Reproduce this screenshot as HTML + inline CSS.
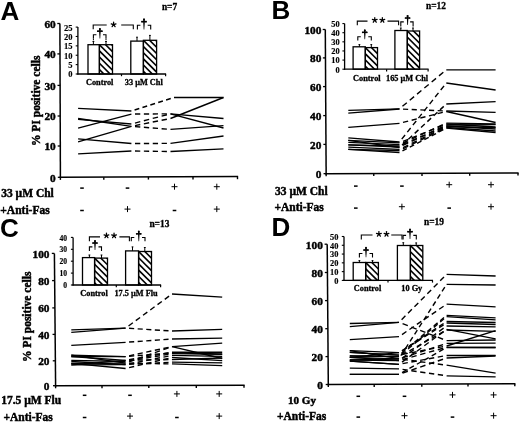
<!DOCTYPE html>
<html><head><meta charset="utf-8"><style>
html,body{margin:0;padding:0;background:#fff;}
svg{display:block;will-change:transform;}
</style></head><body>
<svg width="520" height="422" viewBox="0 0 520 422">
<rect width="520" height="422" fill="#fff"/>
<text x="0.50" y="20.00" font-family="'Liberation Sans', sans-serif" font-weight="bold" font-size="26" text-anchor="start">A</text>
<text x="161.90" y="9.60" font-family="'Liberation Serif', serif" font-weight="bold" font-size="9.4" text-anchor="start" stroke="#000" stroke-width="0.3">n=7</text>
<line x1="59.90" y1="23.50" x2="60.40" y2="178.10" stroke="#000" stroke-width="1.5"/>
<line x1="57.30" y1="23.50" x2="59.90" y2="23.50" stroke="#000" stroke-width="1.3"/>
<text x="55.70" y="27.95" font-family="'Liberation Serif', serif" font-weight="bold" font-size="11.3" text-anchor="end" stroke="#000" stroke-width="0.45">60</text>
<line x1="57.40" y1="53.90" x2="60.00" y2="53.90" stroke="#000" stroke-width="1.3"/>
<text x="55.70" y="58.35" font-family="'Liberation Serif', serif" font-weight="bold" font-size="11.3" text-anchor="end" stroke="#000" stroke-width="0.45">40</text>
<line x1="57.50" y1="85.40" x2="60.10" y2="85.40" stroke="#000" stroke-width="1.3"/>
<text x="55.70" y="89.85" font-family="'Liberation Serif', serif" font-weight="bold" font-size="11.3" text-anchor="end" stroke="#000" stroke-width="0.45">30</text>
<line x1="57.60" y1="116.00" x2="60.20" y2="116.00" stroke="#000" stroke-width="1.3"/>
<text x="55.70" y="120.45" font-family="'Liberation Serif', serif" font-weight="bold" font-size="11.3" text-anchor="end" stroke="#000" stroke-width="0.45">20</text>
<line x1="57.70" y1="146.00" x2="60.30" y2="146.00" stroke="#000" stroke-width="1.3"/>
<text x="55.70" y="150.45" font-family="'Liberation Serif', serif" font-weight="bold" font-size="11.3" text-anchor="end" stroke="#000" stroke-width="0.45">10</text>
<line x1="57.80" y1="177.30" x2="60.40" y2="177.30" stroke="#000" stroke-width="1.3"/>
<text x="55.70" y="181.75" font-family="'Liberation Serif', serif" font-weight="bold" font-size="11.3" text-anchor="end" stroke="#000" stroke-width="0.45">0</text>
<line x1="59.70" y1="177.30" x2="238.10" y2="176.60" stroke="#000" stroke-width="1.5"/>
<line x1="60.40" y1="177.30" x2="60.40" y2="179.90" stroke="#000" stroke-width="1.4"/>
<line x1="103.80" y1="177.13" x2="103.80" y2="179.73" stroke="#000" stroke-width="1.4"/>
<line x1="148.40" y1="176.95" x2="148.40" y2="179.55" stroke="#000" stroke-width="1.4"/>
<line x1="193.00" y1="176.78" x2="193.00" y2="179.38" stroke="#000" stroke-width="1.4"/>
<line x1="237.50" y1="176.60" x2="237.50" y2="179.20" stroke="#000" stroke-width="1.4"/>
<text x="0" y="0" font-family="'Liberation Serif', serif" font-weight="bold" font-size="11.5" text-anchor="middle" stroke="#000" stroke-width="0.45" transform="translate(40.00,100.80) rotate(-90)">% PI positive cells</text>
<text x="1.20" y="197.10" font-family="'Liberation Serif', serif" font-weight="bold" font-size="11.5" text-anchor="start" stroke="#000" stroke-width="0.45">33 µM Chl</text>
<text x="0.30" y="214.00" font-family="'Liberation Serif', serif" font-weight="bold" font-size="11.5" text-anchor="start" stroke="#000" stroke-width="0.45">+Anti-Fas</text>
<rect x="80.20" y="187.35" width="3.6" height="1.5" fill="#000"/>
<rect x="80.20" y="209.75" width="3.6" height="1.5" fill="#000"/>
<rect x="125.70" y="187.35" width="3.6" height="1.5" fill="#000"/>
<line x1="124.50" y1="209.10" x2="130.50" y2="209.10" stroke="#000" stroke-width="1.0"/>
<line x1="127.50" y1="206.10" x2="127.50" y2="212.10" stroke="#000" stroke-width="1.0"/>
<line x1="171.50" y1="186.70" x2="177.50" y2="186.70" stroke="#000" stroke-width="1.0"/>
<line x1="174.50" y1="183.70" x2="174.50" y2="189.70" stroke="#000" stroke-width="1.0"/>
<rect x="172.70" y="209.75" width="3.6" height="1.5" fill="#000"/>
<line x1="213.80" y1="186.70" x2="219.80" y2="186.70" stroke="#000" stroke-width="1.0"/>
<line x1="216.80" y1="183.70" x2="216.80" y2="189.70" stroke="#000" stroke-width="1.0"/>
<line x1="213.80" y1="209.10" x2="219.80" y2="209.10" stroke="#000" stroke-width="1.0"/>
<line x1="216.80" y1="206.10" x2="216.80" y2="212.10" stroke="#000" stroke-width="1.0"/>
<polyline points="78.10,108.40 131.40,111.00" fill="none" stroke="#000" stroke-width="1.35" stroke-linejoin="miter"/>
<line x1="131.40" y1="111.00" x2="174.00" y2="97.50" stroke="#000" stroke-width="1.4" stroke-dasharray="4.92,3.34" stroke-dashoffset="4.92"/>
<polyline points="174.00,97.50 223.50,97.50" fill="none" stroke="#000" stroke-width="1.35" stroke-linejoin="miter"/>
<polyline points="78.10,118.50 131.40,126.30" fill="none" stroke="#000" stroke-width="1.35" stroke-linejoin="miter"/>
<line x1="131.40" y1="126.30" x2="170.50" y2="118.50" stroke="#000" stroke-width="1.4" stroke-dasharray="5.39,3.66" stroke-dashoffset="5.39"/>
<polyline points="170.50,118.50 223.50,97.50" fill="none" stroke="#000" stroke-width="1.35" stroke-linejoin="miter"/>
<polyline points="78.10,119.40 131.40,124.00" fill="none" stroke="#000" stroke-width="1.35" stroke-linejoin="miter"/>
<line x1="131.40" y1="124.00" x2="170.50" y2="113.80" stroke="#000" stroke-width="1.4" stroke-dasharray="5.46,3.71" stroke-dashoffset="5.46"/>
<polyline points="170.50,113.80 223.50,128.00" fill="none" stroke="#000" stroke-width="1.35" stroke-linejoin="miter"/>
<polyline points="78.10,128.10 131.40,114.10" fill="none" stroke="#000" stroke-width="1.35" stroke-linejoin="miter"/>
<line x1="131.40" y1="114.10" x2="170.50" y2="113.80" stroke="#000" stroke-width="1.4" stroke-dasharray="5.29,3.59" stroke-dashoffset="5.29"/>
<polyline points="170.50,113.80 223.50,118.50" fill="none" stroke="#000" stroke-width="1.35" stroke-linejoin="miter"/>
<polyline points="78.10,138.80 131.40,143.50" fill="none" stroke="#000" stroke-width="1.35" stroke-linejoin="miter"/>
<line x1="131.40" y1="143.50" x2="170.50" y2="143.40" stroke="#000" stroke-width="1.4" stroke-dasharray="5.29,3.59" stroke-dashoffset="5.29"/>
<polyline points="170.50,143.40 223.50,136.00" fill="none" stroke="#000" stroke-width="1.35" stroke-linejoin="miter"/>
<polyline points="78.10,141.90 131.40,126.30" fill="none" stroke="#000" stroke-width="1.35" stroke-linejoin="miter"/>
<line x1="131.40" y1="126.30" x2="170.50" y2="129.40" stroke="#000" stroke-width="1.4" stroke-dasharray="5.30,3.60" stroke-dashoffset="5.30"/>
<polyline points="170.50,129.40 223.50,125.60" fill="none" stroke="#000" stroke-width="1.35" stroke-linejoin="miter"/>
<polyline points="78.10,153.80 131.40,151.00" fill="none" stroke="#000" stroke-width="1.35" stroke-linejoin="miter"/>
<line x1="131.40" y1="151.00" x2="170.50" y2="151.50" stroke="#000" stroke-width="1.4" stroke-dasharray="5.29,3.59" stroke-dashoffset="5.29"/>
<polyline points="170.50,151.50 223.50,148.80" fill="none" stroke="#000" stroke-width="1.35" stroke-linejoin="miter"/>
<rect x="88.00" y="44.70" width="11.40" height="29.30" fill="#fff" stroke="#000" stroke-width="1.3"/>
<clipPath id="c1"><rect x="99.40" y="44.70" width="13.10" height="29.30"/></clipPath>
<g clip-path="url(#c1)">
<line x1="98.40" y1="18.90" x2="113.50" y2="34.00" stroke="#000" stroke-width="1.6"/>
<line x1="98.40" y1="25.10" x2="113.50" y2="40.20" stroke="#000" stroke-width="1.6"/>
<line x1="98.40" y1="31.30" x2="113.50" y2="46.40" stroke="#000" stroke-width="1.6"/>
<line x1="98.40" y1="37.50" x2="113.50" y2="52.60" stroke="#000" stroke-width="1.6"/>
<line x1="98.40" y1="43.70" x2="113.50" y2="58.80" stroke="#000" stroke-width="1.6"/>
<line x1="98.40" y1="49.90" x2="113.50" y2="65.00" stroke="#000" stroke-width="1.6"/>
<line x1="98.40" y1="56.10" x2="113.50" y2="71.20" stroke="#000" stroke-width="1.6"/>
<line x1="98.40" y1="62.30" x2="113.50" y2="77.40" stroke="#000" stroke-width="1.6"/>
<line x1="98.40" y1="68.50" x2="113.50" y2="83.60" stroke="#000" stroke-width="1.6"/>
<line x1="98.40" y1="74.70" x2="113.50" y2="89.80" stroke="#000" stroke-width="1.6"/>
</g>
<rect x="99.40" y="44.70" width="13.10" height="29.30" fill="none" stroke="#000" stroke-width="1.3"/>
<line x1="93.40" y1="41.50" x2="93.40" y2="44.70" stroke="#000" stroke-width="1.0"/>
<line x1="92.50" y1="41.50" x2="94.30" y2="41.50" stroke="#000" stroke-width="1.0"/>
<line x1="106.00" y1="41.50" x2="106.00" y2="44.70" stroke="#000" stroke-width="1.0"/>
<line x1="105.10" y1="41.50" x2="106.90" y2="41.50" stroke="#000" stroke-width="1.0"/>
<polyline points="93.40,38.50 93.40,34.70 96.40,34.70" fill="none" stroke="#000" stroke-width="1.1" stroke-linejoin="miter"/>
<polyline points="103.00,34.70 106.00,34.70 106.00,38.50" fill="none" stroke="#000" stroke-width="1.1" stroke-linejoin="miter"/>
<line x1="93.40" y1="38.50" x2="93.40" y2="41.50" stroke="#000" stroke-width="1.0" stroke-dasharray="1.8,1.4"/>
<line x1="106.00" y1="38.50" x2="106.00" y2="41.50" stroke="#000" stroke-width="1.0" stroke-dasharray="1.8,1.4"/>
<polygon points="99.05,28.60 100.75,28.60 100.65,32.18 100.20,38.60 99.60,38.60 99.15,32.18" fill="#000"/>
<circle cx="99.90" cy="28.90" r="0.95" fill="#000"/>
<line x1="97.70" y1="31.18" x2="102.10" y2="31.18" stroke="#000" stroke-width="1.5"/>
<circle cx="97.80" cy="31.18" r="0.85" fill="#000"/>
<circle cx="102.00" cy="31.18" r="0.85" fill="#000"/>
<rect x="130.80" y="41.10" width="12.60" height="32.90" fill="#fff" stroke="#000" stroke-width="1.3"/>
<clipPath id="c2"><rect x="143.40" y="40.30" width="13.20" height="33.70"/></clipPath>
<g clip-path="url(#c2)">
<line x1="142.40" y1="14.50" x2="157.60" y2="29.70" stroke="#000" stroke-width="1.6"/>
<line x1="142.40" y1="20.70" x2="157.60" y2="35.90" stroke="#000" stroke-width="1.6"/>
<line x1="142.40" y1="26.90" x2="157.60" y2="42.10" stroke="#000" stroke-width="1.6"/>
<line x1="142.40" y1="33.10" x2="157.60" y2="48.30" stroke="#000" stroke-width="1.6"/>
<line x1="142.40" y1="39.30" x2="157.60" y2="54.50" stroke="#000" stroke-width="1.6"/>
<line x1="142.40" y1="45.50" x2="157.60" y2="60.70" stroke="#000" stroke-width="1.6"/>
<line x1="142.40" y1="51.70" x2="157.60" y2="66.90" stroke="#000" stroke-width="1.6"/>
<line x1="142.40" y1="57.90" x2="157.60" y2="73.10" stroke="#000" stroke-width="1.6"/>
<line x1="142.40" y1="64.10" x2="157.60" y2="79.30" stroke="#000" stroke-width="1.6"/>
<line x1="142.40" y1="70.30" x2="157.60" y2="85.50" stroke="#000" stroke-width="1.6"/>
</g>
<rect x="143.40" y="40.30" width="13.20" height="33.70" fill="none" stroke="#000" stroke-width="1.3"/>
<line x1="137.00" y1="37.20" x2="137.00" y2="41.10" stroke="#000" stroke-width="1.0"/>
<line x1="136.10" y1="37.20" x2="137.90" y2="37.20" stroke="#000" stroke-width="1.0"/>
<line x1="149.90" y1="35.40" x2="149.90" y2="40.30" stroke="#000" stroke-width="1.0"/>
<line x1="149.00" y1="35.40" x2="150.80" y2="35.40" stroke="#000" stroke-width="1.0"/>
<polyline points="137.40,29.40 137.40,25.30 140.40,25.30" fill="none" stroke="#000" stroke-width="1.1" stroke-linejoin="miter"/>
<polyline points="147.70,25.30 150.70,25.30 150.70,29.40" fill="none" stroke="#000" stroke-width="1.1" stroke-linejoin="miter"/>
<polygon points="143.15,18.90 144.85,18.90 144.75,22.63 144.30,29.40 143.70,29.40 143.25,22.63" fill="#000"/>
<circle cx="144.00" cy="19.20" r="0.95" fill="#000"/>
<line x1="141.80" y1="21.63" x2="146.20" y2="21.63" stroke="#000" stroke-width="1.5"/>
<circle cx="141.90" cy="21.63" r="0.85" fill="#000"/>
<circle cx="146.10" cy="21.63" r="0.85" fill="#000"/>
<line x1="77.90" y1="27.10" x2="77.90" y2="74.60" stroke="#000" stroke-width="1.3"/>
<line x1="75.70" y1="74.00" x2="77.90" y2="74.00" stroke="#000" stroke-width="1.1"/>
<text x="72.60" y="77.42" font-family="'Liberation Serif', serif" font-weight="bold" font-size="8.5" text-anchor="end" stroke="#000" stroke-width="0.15">0</text>
<line x1="75.70" y1="64.62" x2="77.90" y2="64.62" stroke="#000" stroke-width="1.1"/>
<text x="72.60" y="68.04" font-family="'Liberation Serif', serif" font-weight="bold" font-size="8.5" text-anchor="end" stroke="#000" stroke-width="0.15">5</text>
<line x1="75.70" y1="55.24" x2="77.90" y2="55.24" stroke="#000" stroke-width="1.1"/>
<text x="72.60" y="58.66" font-family="'Liberation Serif', serif" font-weight="bold" font-size="8.5" text-anchor="end" stroke="#000" stroke-width="0.15">10</text>
<line x1="75.70" y1="45.86" x2="77.90" y2="45.86" stroke="#000" stroke-width="1.1"/>
<text x="72.60" y="49.28" font-family="'Liberation Serif', serif" font-weight="bold" font-size="8.5" text-anchor="end" stroke="#000" stroke-width="0.15">15</text>
<line x1="75.70" y1="36.48" x2="77.90" y2="36.48" stroke="#000" stroke-width="1.1"/>
<text x="72.60" y="39.90" font-family="'Liberation Serif', serif" font-weight="bold" font-size="8.5" text-anchor="end" stroke="#000" stroke-width="0.15">20</text>
<line x1="75.70" y1="27.10" x2="77.90" y2="27.10" stroke="#000" stroke-width="1.1"/>
<text x="72.60" y="30.52" font-family="'Liberation Serif', serif" font-weight="bold" font-size="8.5" text-anchor="end" stroke="#000" stroke-width="0.15">25</text>
<line x1="77.30" y1="74.00" x2="166.10" y2="74.00" stroke="#000" stroke-width="1.3"/>
<line x1="165.60" y1="74.00" x2="165.60" y2="76.20" stroke="#000" stroke-width="1.2"/>
<line x1="121.50" y1="74.00" x2="121.50" y2="76.20" stroke="#000" stroke-width="1.2"/>
<text x="85.90" y="84.60" font-family="'Liberation Serif', serif" font-weight="bold" font-size="8.3" text-anchor="start" stroke="#000" stroke-width="0.3">Control</text>
<text x="124.80" y="84.80" font-family="'Liberation Serif', serif" font-weight="bold" font-size="8.3" text-anchor="start" stroke="#000" stroke-width="0.3">33 µM Chl</text>
<polyline points="93.20,29.20 93.20,25.00 106.70,25.00" fill="none" stroke="#000" stroke-width="1.1" stroke-linejoin="miter"/>
<polyline points="121.20,25.00 133.30,25.00 133.30,29.20" fill="none" stroke="#000" stroke-width="1.1" stroke-linejoin="miter"/>
<line x1="113.60" y1="24.60" x2="113.60" y2="22.10" stroke="#000" stroke-width="1.25" stroke-linecap="round"/>
<line x1="113.60" y1="24.60" x2="115.98" y2="23.83" stroke="#000" stroke-width="1.25" stroke-linecap="round"/>
<line x1="113.60" y1="24.60" x2="115.07" y2="26.62" stroke="#000" stroke-width="1.25" stroke-linecap="round"/>
<line x1="113.60" y1="24.60" x2="112.13" y2="26.62" stroke="#000" stroke-width="1.25" stroke-linecap="round"/>
<line x1="113.60" y1="24.60" x2="111.22" y2="23.83" stroke="#000" stroke-width="1.25" stroke-linecap="round"/>
<circle cx="113.60" cy="24.60" r="0.9" fill="#000"/>
<text x="271.50" y="19.40" font-family="'Liberation Sans', sans-serif" font-weight="bold" font-size="26" text-anchor="start">B</text>
<text x="426.00" y="8.80" font-family="'Liberation Serif', serif" font-weight="bold" font-size="9.4" text-anchor="start" stroke="#000" stroke-width="0.3">n=12</text>
<line x1="325.30" y1="29.50" x2="326.15" y2="174.45" stroke="#000" stroke-width="1.5"/>
<line x1="322.70" y1="29.50" x2="325.30" y2="29.50" stroke="#000" stroke-width="1.3"/>
<text x="321.40" y="33.95" font-family="'Liberation Serif', serif" font-weight="bold" font-size="11.3" text-anchor="end" stroke="#000" stroke-width="0.45">100</text>
<line x1="322.87" y1="57.90" x2="325.47" y2="57.90" stroke="#000" stroke-width="1.3"/>
<text x="321.40" y="62.35" font-family="'Liberation Serif', serif" font-weight="bold" font-size="11.3" text-anchor="end" stroke="#000" stroke-width="0.45">80</text>
<line x1="323.04" y1="86.60" x2="325.64" y2="86.60" stroke="#000" stroke-width="1.3"/>
<text x="321.40" y="91.05" font-family="'Liberation Serif', serif" font-weight="bold" font-size="11.3" text-anchor="end" stroke="#000" stroke-width="0.45">60</text>
<line x1="323.21" y1="115.60" x2="325.81" y2="115.60" stroke="#000" stroke-width="1.3"/>
<text x="321.40" y="120.05" font-family="'Liberation Serif', serif" font-weight="bold" font-size="11.3" text-anchor="end" stroke="#000" stroke-width="0.45">40</text>
<line x1="323.38" y1="144.40" x2="325.98" y2="144.40" stroke="#000" stroke-width="1.3"/>
<text x="321.40" y="148.85" font-family="'Liberation Serif', serif" font-weight="bold" font-size="11.3" text-anchor="end" stroke="#000" stroke-width="0.45">20</text>
<line x1="323.55" y1="173.65" x2="326.15" y2="173.65" stroke="#000" stroke-width="1.3"/>
<text x="321.40" y="178.10" font-family="'Liberation Serif', serif" font-weight="bold" font-size="11.3" text-anchor="end" stroke="#000" stroke-width="0.45">0</text>
<line x1="325.45" y1="173.65" x2="518.60" y2="172.90" stroke="#000" stroke-width="1.5"/>
<line x1="326.15" y1="173.65" x2="326.15" y2="176.25" stroke="#000" stroke-width="1.4"/>
<line x1="373.75" y1="173.46" x2="373.75" y2="176.06" stroke="#000" stroke-width="1.4"/>
<line x1="422.00" y1="173.28" x2="422.00" y2="175.88" stroke="#000" stroke-width="1.4"/>
<line x1="469.70" y1="173.09" x2="469.70" y2="175.69" stroke="#000" stroke-width="1.4"/>
<line x1="518.00" y1="172.90" x2="518.00" y2="175.50" stroke="#000" stroke-width="1.4"/>
<text x="0" y="0" font-family="'Liberation Serif', serif" font-weight="bold" font-size="11.5" text-anchor="middle" stroke="#000" stroke-width="0.45" transform="translate(-100.00,-100.00) rotate(-90)">% PI positive cells</text>
<text x="275.00" y="194.80" font-family="'Liberation Serif', serif" font-weight="bold" font-size="11.5" text-anchor="start" stroke="#000" stroke-width="0.45">33 µM Chl</text>
<text x="274.40" y="210.60" font-family="'Liberation Serif', serif" font-weight="bold" font-size="11.5" text-anchor="start" stroke="#000" stroke-width="0.45">+Anti-Fas</text>
<rect x="354.00" y="185.35" width="3.6" height="1.5" fill="#000"/>
<rect x="354.00" y="207.35" width="3.6" height="1.5" fill="#000"/>
<rect x="400.10" y="185.35" width="3.6" height="1.5" fill="#000"/>
<line x1="398.90" y1="206.70" x2="404.90" y2="206.70" stroke="#000" stroke-width="1.0"/>
<line x1="401.90" y1="203.70" x2="401.90" y2="209.70" stroke="#000" stroke-width="1.0"/>
<line x1="446.20" y1="184.70" x2="452.20" y2="184.70" stroke="#000" stroke-width="1.0"/>
<line x1="449.20" y1="181.70" x2="449.20" y2="187.70" stroke="#000" stroke-width="1.0"/>
<rect x="447.40" y="207.35" width="3.6" height="1.5" fill="#000"/>
<line x1="488.00" y1="184.70" x2="494.00" y2="184.70" stroke="#000" stroke-width="1.0"/>
<line x1="491.00" y1="181.70" x2="491.00" y2="187.70" stroke="#000" stroke-width="1.0"/>
<line x1="488.00" y1="206.70" x2="494.00" y2="206.70" stroke="#000" stroke-width="1.0"/>
<line x1="491.00" y1="203.70" x2="491.00" y2="209.70" stroke="#000" stroke-width="1.0"/>
<polyline points="348.30,110.30 399.50,108.80" fill="none" stroke="#000" stroke-width="1.35" stroke-linejoin="miter"/>
<line x1="399.50" y1="108.80" x2="446.30" y2="69.80" stroke="#000" stroke-width="1.4" stroke-dasharray="5.66,3.85" stroke-dashoffset="5.66"/>
<polyline points="446.30,69.80 495.60,69.80" fill="none" stroke="#000" stroke-width="1.35" stroke-linejoin="miter"/>
<polyline points="348.30,113.10 399.50,109.00" fill="none" stroke="#000" stroke-width="1.35" stroke-linejoin="miter"/>
<line x1="399.50" y1="109.00" x2="446.30" y2="111.00" stroke="#000" stroke-width="1.4" stroke-dasharray="5.16,3.51" stroke-dashoffset="5.16"/>
<polyline points="446.30,111.00 495.60,112.30" fill="none" stroke="#000" stroke-width="1.35" stroke-linejoin="miter"/>
<polyline points="348.30,127.30 399.50,123.30" fill="none" stroke="#000" stroke-width="1.35" stroke-linejoin="miter"/>
<line x1="399.50" y1="123.30" x2="446.30" y2="111.50" stroke="#000" stroke-width="1.4" stroke-dasharray="5.32,3.61" stroke-dashoffset="5.32"/>
<polyline points="446.30,111.50 495.60,122.50" fill="none" stroke="#000" stroke-width="1.35" stroke-linejoin="miter"/>
<polyline points="348.30,137.90 399.50,142.00" fill="none" stroke="#000" stroke-width="1.35" stroke-linejoin="miter"/>
<line x1="399.50" y1="142.00" x2="446.30" y2="83.00" stroke="#000" stroke-width="1.4" stroke-dasharray="5.34,3.62" stroke-dashoffset="5.34"/>
<polyline points="446.30,83.00 495.60,90.00" fill="none" stroke="#000" stroke-width="1.35" stroke-linejoin="miter"/>
<polyline points="348.30,140.30 399.50,147.50" fill="none" stroke="#000" stroke-width="1.35" stroke-linejoin="miter"/>
<line x1="399.50" y1="147.50" x2="446.30" y2="104.00" stroke="#000" stroke-width="1.4" stroke-dasharray="5.14,3.49" stroke-dashoffset="5.14"/>
<polyline points="446.30,104.00 495.60,101.60" fill="none" stroke="#000" stroke-width="1.35" stroke-linejoin="miter"/>
<polyline points="348.30,142.40 399.50,144.60" fill="none" stroke="#000" stroke-width="1.35" stroke-linejoin="miter"/>
<line x1="399.50" y1="144.60" x2="446.30" y2="123.10" stroke="#000" stroke-width="1.4" stroke-dasharray="5.67,3.85" stroke-dashoffset="5.67"/>
<polyline points="446.30,123.10 495.60,123.80" fill="none" stroke="#000" stroke-width="1.35" stroke-linejoin="miter"/>
<polyline points="348.30,144.80 399.50,147.00" fill="none" stroke="#000" stroke-width="1.35" stroke-linejoin="miter"/>
<line x1="399.50" y1="147.00" x2="446.30" y2="125.00" stroke="#000" stroke-width="1.4" stroke-dasharray="5.70,3.87" stroke-dashoffset="5.70"/>
<polyline points="446.30,125.00 495.60,124.60" fill="none" stroke="#000" stroke-width="1.35" stroke-linejoin="miter"/>
<polyline points="348.30,147.20 399.50,149.30" fill="none" stroke="#000" stroke-width="1.35" stroke-linejoin="miter"/>
<line x1="399.50" y1="149.30" x2="446.30" y2="126.50" stroke="#000" stroke-width="1.4" stroke-dasharray="5.74,3.90" stroke-dashoffset="5.74"/>
<polyline points="446.30,126.50 495.60,127.60" fill="none" stroke="#000" stroke-width="1.35" stroke-linejoin="miter"/>
<polyline points="348.30,149.30 399.50,152.50" fill="none" stroke="#000" stroke-width="1.35" stroke-linejoin="miter"/>
<line x1="399.50" y1="152.50" x2="446.30" y2="128.20" stroke="#000" stroke-width="1.4" stroke-dasharray="4.90,3.33" stroke-dashoffset="4.90"/>
<polyline points="446.30,128.20 495.60,132.50" fill="none" stroke="#000" stroke-width="1.35" stroke-linejoin="miter"/>
<polyline points="348.30,140.30 399.50,142.80" fill="none" stroke="#000" stroke-width="1.35" stroke-linejoin="miter"/>
<line x1="399.50" y1="142.80" x2="446.30" y2="124.00" stroke="#000" stroke-width="1.4" stroke-dasharray="5.56,3.77" stroke-dashoffset="5.56"/>
<polyline points="446.30,124.00 495.60,127.00" fill="none" stroke="#000" stroke-width="1.35" stroke-linejoin="miter"/>
<polyline points="348.30,144.80 399.50,145.80" fill="none" stroke="#000" stroke-width="1.35" stroke-linejoin="miter"/>
<line x1="399.50" y1="145.80" x2="446.30" y2="126.00" stroke="#000" stroke-width="1.4" stroke-dasharray="5.60,3.80" stroke-dashoffset="5.60"/>
<polyline points="446.30,126.00 495.60,129.00" fill="none" stroke="#000" stroke-width="1.35" stroke-linejoin="miter"/>
<polyline points="348.30,149.30 399.50,150.50" fill="none" stroke="#000" stroke-width="1.35" stroke-linejoin="miter"/>
<line x1="399.50" y1="150.50" x2="446.30" y2="127.50" stroke="#000" stroke-width="1.4" stroke-dasharray="5.75,3.90" stroke-dashoffset="5.75"/>
<polyline points="446.30,127.50 495.60,131.00" fill="none" stroke="#000" stroke-width="1.35" stroke-linejoin="miter"/>
<rect x="353.10" y="46.80" width="12.20" height="22.40" fill="#fff" stroke="#000" stroke-width="1.3"/>
<clipPath id="c3"><rect x="365.30" y="47.60" width="12.20" height="21.60"/></clipPath>
<g clip-path="url(#c3)">
<line x1="364.30" y1="21.80" x2="378.50" y2="36.00" stroke="#000" stroke-width="1.6"/>
<line x1="364.30" y1="28.00" x2="378.50" y2="42.20" stroke="#000" stroke-width="1.6"/>
<line x1="364.30" y1="34.20" x2="378.50" y2="48.40" stroke="#000" stroke-width="1.6"/>
<line x1="364.30" y1="40.40" x2="378.50" y2="54.60" stroke="#000" stroke-width="1.6"/>
<line x1="364.30" y1="46.60" x2="378.50" y2="60.80" stroke="#000" stroke-width="1.6"/>
<line x1="364.30" y1="52.80" x2="378.50" y2="67.00" stroke="#000" stroke-width="1.6"/>
<line x1="364.30" y1="59.00" x2="378.50" y2="73.20" stroke="#000" stroke-width="1.6"/>
<line x1="364.30" y1="65.20" x2="378.50" y2="79.40" stroke="#000" stroke-width="1.6"/>
</g>
<rect x="365.30" y="47.60" width="12.20" height="21.60" fill="none" stroke="#000" stroke-width="1.3"/>
<line x1="359.40" y1="44.60" x2="359.40" y2="46.80" stroke="#000" stroke-width="1.0"/>
<line x1="358.50" y1="44.60" x2="360.30" y2="44.60" stroke="#000" stroke-width="1.0"/>
<line x1="371.30" y1="44.60" x2="371.30" y2="47.60" stroke="#000" stroke-width="1.0"/>
<line x1="370.40" y1="44.60" x2="372.20" y2="44.60" stroke="#000" stroke-width="1.0"/>
<polyline points="357.80,40.50 357.80,36.80 360.80,36.80" fill="none" stroke="#000" stroke-width="1.1" stroke-linejoin="miter"/>
<polyline points="368.30,36.80 371.30,36.80 371.30,40.50" fill="none" stroke="#000" stroke-width="1.1" stroke-linejoin="miter"/>
<polygon points="363.95,29.90 365.65,29.90 365.55,33.30 365.10,39.30 364.50,39.30 364.05,33.30" fill="#000"/>
<circle cx="364.80" cy="30.20" r="0.95" fill="#000"/>
<line x1="362.60" y1="32.30" x2="367.00" y2="32.30" stroke="#000" stroke-width="1.5"/>
<circle cx="362.70" cy="32.30" r="0.85" fill="#000"/>
<circle cx="366.90" cy="32.30" r="0.85" fill="#000"/>
<rect x="394.90" y="30.50" width="12.40" height="38.70" fill="#fff" stroke="#000" stroke-width="1.3"/>
<clipPath id="c4"><rect x="407.30" y="31.00" width="12.30" height="38.20"/></clipPath>
<g clip-path="url(#c4)">
<line x1="406.30" y1="5.20" x2="420.60" y2="19.50" stroke="#000" stroke-width="1.6"/>
<line x1="406.30" y1="11.40" x2="420.60" y2="25.70" stroke="#000" stroke-width="1.6"/>
<line x1="406.30" y1="17.60" x2="420.60" y2="31.90" stroke="#000" stroke-width="1.6"/>
<line x1="406.30" y1="23.80" x2="420.60" y2="38.10" stroke="#000" stroke-width="1.6"/>
<line x1="406.30" y1="30.00" x2="420.60" y2="44.30" stroke="#000" stroke-width="1.6"/>
<line x1="406.30" y1="36.20" x2="420.60" y2="50.50" stroke="#000" stroke-width="1.6"/>
<line x1="406.30" y1="42.40" x2="420.60" y2="56.70" stroke="#000" stroke-width="1.6"/>
<line x1="406.30" y1="48.60" x2="420.60" y2="62.90" stroke="#000" stroke-width="1.6"/>
<line x1="406.30" y1="54.80" x2="420.60" y2="69.10" stroke="#000" stroke-width="1.6"/>
<line x1="406.30" y1="61.00" x2="420.60" y2="75.30" stroke="#000" stroke-width="1.6"/>
<line x1="406.30" y1="67.20" x2="420.60" y2="81.50" stroke="#000" stroke-width="1.6"/>
</g>
<rect x="407.30" y="31.00" width="12.30" height="38.20" fill="none" stroke="#000" stroke-width="1.3"/>
<line x1="400.80" y1="28.00" x2="400.80" y2="30.50" stroke="#000" stroke-width="1.0"/>
<line x1="399.90" y1="28.00" x2="401.70" y2="28.00" stroke="#000" stroke-width="1.0"/>
<line x1="413.00" y1="28.00" x2="413.00" y2="31.00" stroke="#000" stroke-width="1.0"/>
<line x1="412.10" y1="28.00" x2="413.90" y2="28.00" stroke="#000" stroke-width="1.0"/>
<polyline points="400.80,26.50 400.80,21.90 403.80,21.90" fill="none" stroke="#000" stroke-width="1.1" stroke-linejoin="miter"/>
<polyline points="410.10,21.90 413.10,21.90 413.10,26.50" fill="none" stroke="#000" stroke-width="1.1" stroke-linejoin="miter"/>
<polygon points="406.75,15.60 408.45,15.60 408.35,19.00 407.90,25.00 407.30,25.00 406.85,19.00" fill="#000"/>
<circle cx="407.60" cy="15.90" r="0.95" fill="#000"/>
<line x1="405.40" y1="18.00" x2="409.80" y2="18.00" stroke="#000" stroke-width="1.5"/>
<circle cx="405.50" cy="18.00" r="0.85" fill="#000"/>
<circle cx="409.70" cy="18.00" r="0.85" fill="#000"/>
<line x1="344.60" y1="23.58" x2="344.60" y2="69.80" stroke="#000" stroke-width="1.3"/>
<line x1="342.40" y1="69.20" x2="344.60" y2="69.20" stroke="#000" stroke-width="1.1"/>
<text x="339.60" y="72.59" font-family="'Liberation Serif', serif" font-weight="bold" font-size="8.4" text-anchor="end" stroke="#000" stroke-width="0.15">0</text>
<line x1="342.40" y1="60.08" x2="344.60" y2="60.08" stroke="#000" stroke-width="1.1"/>
<text x="339.60" y="63.46" font-family="'Liberation Serif', serif" font-weight="bold" font-size="8.4" text-anchor="end" stroke="#000" stroke-width="0.15">10</text>
<line x1="342.40" y1="50.95" x2="344.60" y2="50.95" stroke="#000" stroke-width="1.1"/>
<text x="339.60" y="54.34" font-family="'Liberation Serif', serif" font-weight="bold" font-size="8.4" text-anchor="end" stroke="#000" stroke-width="0.15">20</text>
<line x1="342.40" y1="41.83" x2="344.60" y2="41.83" stroke="#000" stroke-width="1.1"/>
<text x="339.60" y="45.21" font-family="'Liberation Serif', serif" font-weight="bold" font-size="8.4" text-anchor="end" stroke="#000" stroke-width="0.15">30</text>
<line x1="342.40" y1="32.70" x2="344.60" y2="32.70" stroke="#000" stroke-width="1.1"/>
<text x="339.60" y="36.09" font-family="'Liberation Serif', serif" font-weight="bold" font-size="8.4" text-anchor="end" stroke="#000" stroke-width="0.15">40</text>
<line x1="342.40" y1="23.58" x2="344.60" y2="23.58" stroke="#000" stroke-width="1.1"/>
<text x="339.60" y="26.96" font-family="'Liberation Serif', serif" font-weight="bold" font-size="8.4" text-anchor="end" stroke="#000" stroke-width="0.15">50</text>
<line x1="344.00" y1="69.20" x2="428.60" y2="69.20" stroke="#000" stroke-width="1.3"/>
<line x1="428.10" y1="69.20" x2="428.10" y2="71.40" stroke="#000" stroke-width="1.2"/>
<line x1="386.60" y1="69.20" x2="386.60" y2="71.40" stroke="#000" stroke-width="1.2"/>
<text x="353.10" y="81.00" font-family="'Liberation Serif', serif" font-weight="bold" font-size="8.3" text-anchor="start" stroke="#000" stroke-width="0.3">Control</text>
<text x="386.00" y="81.00" font-family="'Liberation Serif', serif" font-weight="bold" font-size="8.3" text-anchor="start" stroke="#000" stroke-width="0.3">165 µM Chl</text>
<polyline points="357.30,25.30 357.30,21.10 367.50,21.10" fill="none" stroke="#000" stroke-width="1.1" stroke-linejoin="miter"/>
<polyline points="387.50,21.10 398.60,21.10 398.60,25.30" fill="none" stroke="#000" stroke-width="1.1" stroke-linejoin="miter"/>
<line x1="374.75" y1="20.20" x2="374.75" y2="17.70" stroke="#000" stroke-width="1.25" stroke-linecap="round"/>
<line x1="374.75" y1="20.20" x2="377.13" y2="19.43" stroke="#000" stroke-width="1.25" stroke-linecap="round"/>
<line x1="374.75" y1="20.20" x2="376.22" y2="22.22" stroke="#000" stroke-width="1.25" stroke-linecap="round"/>
<line x1="374.75" y1="20.20" x2="373.28" y2="22.22" stroke="#000" stroke-width="1.25" stroke-linecap="round"/>
<line x1="374.75" y1="20.20" x2="372.37" y2="19.43" stroke="#000" stroke-width="1.25" stroke-linecap="round"/>
<circle cx="374.75" cy="20.20" r="0.9" fill="#000"/>
<line x1="382.35" y1="20.20" x2="382.35" y2="17.70" stroke="#000" stroke-width="1.25" stroke-linecap="round"/>
<line x1="382.35" y1="20.20" x2="384.73" y2="19.43" stroke="#000" stroke-width="1.25" stroke-linecap="round"/>
<line x1="382.35" y1="20.20" x2="383.82" y2="22.22" stroke="#000" stroke-width="1.25" stroke-linecap="round"/>
<line x1="382.35" y1="20.20" x2="380.88" y2="22.22" stroke="#000" stroke-width="1.25" stroke-linecap="round"/>
<line x1="382.35" y1="20.20" x2="379.97" y2="19.43" stroke="#000" stroke-width="1.25" stroke-linecap="round"/>
<circle cx="382.35" cy="20.20" r="0.9" fill="#000"/>
<text x="0.00" y="236.60" font-family="'Liberation Sans', sans-serif" font-weight="bold" font-size="26" text-anchor="start">C</text>
<text x="149.40" y="226.90" font-family="'Liberation Serif', serif" font-weight="bold" font-size="9.4" text-anchor="start" stroke="#000" stroke-width="0.3">n=13</text>
<line x1="54.40" y1="253.40" x2="55.61" y2="386.50" stroke="#000" stroke-width="1.5"/>
<line x1="51.80" y1="253.40" x2="54.40" y2="253.40" stroke="#000" stroke-width="1.3"/>
<text x="49.50" y="257.85" font-family="'Liberation Serif', serif" font-weight="bold" font-size="11.3" text-anchor="end" stroke="#000" stroke-width="0.45">100</text>
<line x1="52.05" y1="280.60" x2="54.65" y2="280.60" stroke="#000" stroke-width="1.3"/>
<text x="49.50" y="285.05" font-family="'Liberation Serif', serif" font-weight="bold" font-size="11.3" text-anchor="end" stroke="#000" stroke-width="0.45">80</text>
<line x1="52.29" y1="307.90" x2="54.89" y2="307.90" stroke="#000" stroke-width="1.3"/>
<text x="49.50" y="312.35" font-family="'Liberation Serif', serif" font-weight="bold" font-size="11.3" text-anchor="end" stroke="#000" stroke-width="0.45">60</text>
<line x1="52.53" y1="334.40" x2="55.13" y2="334.40" stroke="#000" stroke-width="1.3"/>
<text x="49.50" y="338.85" font-family="'Liberation Serif', serif" font-weight="bold" font-size="11.3" text-anchor="end" stroke="#000" stroke-width="0.45">40</text>
<line x1="52.77" y1="360.80" x2="55.37" y2="360.80" stroke="#000" stroke-width="1.3"/>
<text x="49.50" y="365.25" font-family="'Liberation Serif', serif" font-weight="bold" font-size="11.3" text-anchor="end" stroke="#000" stroke-width="0.45">20</text>
<line x1="53.00" y1="385.70" x2="55.60" y2="385.70" stroke="#000" stroke-width="1.3"/>
<text x="49.50" y="390.15" font-family="'Liberation Serif', serif" font-weight="bold" font-size="11.3" text-anchor="end" stroke="#000" stroke-width="0.45">0</text>
<line x1="54.90" y1="385.70" x2="244.60" y2="385.25" stroke="#000" stroke-width="1.5"/>
<line x1="55.60" y1="385.70" x2="55.60" y2="388.30" stroke="#000" stroke-width="1.4"/>
<line x1="102.00" y1="385.59" x2="102.00" y2="388.19" stroke="#000" stroke-width="1.4"/>
<line x1="148.80" y1="385.48" x2="148.80" y2="388.08" stroke="#000" stroke-width="1.4"/>
<line x1="196.30" y1="385.36" x2="196.30" y2="387.96" stroke="#000" stroke-width="1.4"/>
<line x1="244.00" y1="385.25" x2="244.00" y2="387.85" stroke="#000" stroke-width="1.4"/>
<text x="0" y="0" font-family="'Liberation Serif', serif" font-weight="bold" font-size="11.5" text-anchor="middle" stroke="#000" stroke-width="0.45" transform="translate(31.20,316.80) rotate(-90)">% PI positive cells</text>
<text x="1.20" y="403.80" font-family="'Liberation Serif', serif" font-weight="bold" font-size="11.5" text-anchor="start" stroke="#000" stroke-width="0.45">17.5 µM Flu</text>
<text x="3.40" y="420.50" font-family="'Liberation Serif', serif" font-weight="bold" font-size="11.5" text-anchor="start" stroke="#000" stroke-width="0.45">+Anti-Fas</text>
<rect x="82.80" y="394.55" width="3.6" height="1.5" fill="#000"/>
<rect x="82.80" y="416.75" width="3.6" height="1.5" fill="#000"/>
<rect x="128.20" y="394.55" width="3.6" height="1.5" fill="#000"/>
<line x1="127.00" y1="416.10" x2="133.00" y2="416.10" stroke="#000" stroke-width="1.0"/>
<line x1="130.00" y1="413.10" x2="130.00" y2="419.10" stroke="#000" stroke-width="1.0"/>
<line x1="173.90" y1="393.90" x2="179.90" y2="393.90" stroke="#000" stroke-width="1.0"/>
<line x1="176.90" y1="390.90" x2="176.90" y2="396.90" stroke="#000" stroke-width="1.0"/>
<rect x="175.10" y="416.75" width="3.6" height="1.5" fill="#000"/>
<line x1="216.20" y1="393.90" x2="222.20" y2="393.90" stroke="#000" stroke-width="1.0"/>
<line x1="219.20" y1="390.90" x2="219.20" y2="396.90" stroke="#000" stroke-width="1.0"/>
<line x1="216.20" y1="416.10" x2="222.20" y2="416.10" stroke="#000" stroke-width="1.0"/>
<line x1="219.20" y1="413.10" x2="219.20" y2="419.10" stroke="#000" stroke-width="1.0"/>
<polyline points="71.30,329.80 125.60,328.10" fill="none" stroke="#000" stroke-width="1.35" stroke-linejoin="miter"/>
<line x1="125.60" y1="328.10" x2="172.00" y2="294.00" stroke="#000" stroke-width="1.4" stroke-dasharray="5.35,3.64" stroke-dashoffset="5.35"/>
<polyline points="172.00,294.00 222.20,297.10" fill="none" stroke="#000" stroke-width="1.35" stroke-linejoin="miter"/>
<polyline points="71.30,332.30 125.60,328.10" fill="none" stroke="#000" stroke-width="1.35" stroke-linejoin="miter"/>
<line x1="125.60" y1="328.10" x2="172.00" y2="331.00" stroke="#000" stroke-width="1.4" stroke-dasharray="5.12,3.48" stroke-dashoffset="5.12"/>
<polyline points="172.00,331.00 222.20,329.40" fill="none" stroke="#000" stroke-width="1.35" stroke-linejoin="miter"/>
<polyline points="71.30,345.30 125.60,342.30" fill="none" stroke="#000" stroke-width="1.35" stroke-linejoin="miter"/>
<line x1="125.60" y1="342.30" x2="172.00" y2="339.00" stroke="#000" stroke-width="1.4" stroke-dasharray="5.13,3.48" stroke-dashoffset="5.13"/>
<polyline points="172.00,339.00 222.20,338.10" fill="none" stroke="#000" stroke-width="1.35" stroke-linejoin="miter"/>
<polyline points="71.30,355.10 125.60,356.60" fill="none" stroke="#000" stroke-width="1.35" stroke-linejoin="miter"/>
<line x1="125.60" y1="356.60" x2="172.00" y2="346.60" stroke="#000" stroke-width="1.4" stroke-dasharray="5.23,3.55" stroke-dashoffset="5.23"/>
<polyline points="172.00,346.60 222.20,343.10" fill="none" stroke="#000" stroke-width="1.35" stroke-linejoin="miter"/>
<polyline points="71.30,355.10 125.60,363.10" fill="none" stroke="#000" stroke-width="1.35" stroke-linejoin="miter"/>
<line x1="125.60" y1="363.10" x2="172.00" y2="346.60" stroke="#000" stroke-width="1.4" stroke-dasharray="5.43,3.69" stroke-dashoffset="5.43"/>
<polyline points="172.00,346.60 222.20,358.50" fill="none" stroke="#000" stroke-width="1.35" stroke-linejoin="miter"/>
<polyline points="71.30,356.50 125.60,360.30" fill="none" stroke="#000" stroke-width="1.35" stroke-linejoin="miter"/>
<line x1="125.60" y1="360.30" x2="172.00" y2="352.20" stroke="#000" stroke-width="1.4" stroke-dasharray="5.19,3.53" stroke-dashoffset="5.19"/>
<polyline points="172.00,352.20 222.20,352.20" fill="none" stroke="#000" stroke-width="1.35" stroke-linejoin="miter"/>
<polyline points="71.30,360.30 125.60,361.50" fill="none" stroke="#000" stroke-width="1.35" stroke-linejoin="miter"/>
<line x1="125.60" y1="361.50" x2="172.00" y2="353.70" stroke="#000" stroke-width="1.4" stroke-dasharray="5.18,3.52" stroke-dashoffset="5.18"/>
<polyline points="172.00,353.70 222.20,354.30" fill="none" stroke="#000" stroke-width="1.35" stroke-linejoin="miter"/>
<polyline points="71.30,361.50 125.60,364.60" fill="none" stroke="#000" stroke-width="1.35" stroke-linejoin="miter"/>
<line x1="125.60" y1="364.60" x2="172.00" y2="355.40" stroke="#000" stroke-width="1.4" stroke-dasharray="5.21,3.54" stroke-dashoffset="5.21"/>
<polyline points="172.00,355.40 222.20,356.40" fill="none" stroke="#000" stroke-width="1.35" stroke-linejoin="miter"/>
<polyline points="71.30,363.40 125.60,368.50" fill="none" stroke="#000" stroke-width="1.35" stroke-linejoin="miter"/>
<line x1="125.60" y1="368.50" x2="172.00" y2="357.50" stroke="#000" stroke-width="1.4" stroke-dasharray="5.25,3.57" stroke-dashoffset="5.25"/>
<polyline points="172.00,357.50 222.20,360.70" fill="none" stroke="#000" stroke-width="1.35" stroke-linejoin="miter"/>
<polyline points="71.30,364.90 125.60,360.30" fill="none" stroke="#000" stroke-width="1.35" stroke-linejoin="miter"/>
<line x1="125.60" y1="360.30" x2="172.00" y2="359.60" stroke="#000" stroke-width="1.4" stroke-dasharray="5.11,3.47" stroke-dashoffset="5.11"/>
<polyline points="172.00,359.60 222.20,358.00" fill="none" stroke="#000" stroke-width="1.35" stroke-linejoin="miter"/>
<polyline points="71.30,363.40 125.60,363.10" fill="none" stroke="#000" stroke-width="1.35" stroke-linejoin="miter"/>
<line x1="125.60" y1="363.10" x2="172.00" y2="363.90" stroke="#000" stroke-width="1.4" stroke-dasharray="5.11,3.47" stroke-dashoffset="5.11"/>
<polyline points="172.00,363.90 222.20,365.60" fill="none" stroke="#000" stroke-width="1.35" stroke-linejoin="miter"/>
<polyline points="71.30,364.90 125.60,364.60" fill="none" stroke="#000" stroke-width="1.35" stroke-linejoin="miter"/>
<line x1="125.60" y1="364.60" x2="172.00" y2="362.20" stroke="#000" stroke-width="1.4" stroke-dasharray="5.12,3.48" stroke-dashoffset="5.12"/>
<polyline points="172.00,362.20 222.20,362.80" fill="none" stroke="#000" stroke-width="1.35" stroke-linejoin="miter"/>
<polyline points="71.30,356.50 125.60,356.60" fill="none" stroke="#000" stroke-width="1.35" stroke-linejoin="miter"/>
<line x1="125.60" y1="356.60" x2="172.00" y2="352.90" stroke="#000" stroke-width="1.4" stroke-dasharray="5.13,3.48" stroke-dashoffset="5.13"/>
<polyline points="172.00,352.90 222.20,354.00" fill="none" stroke="#000" stroke-width="1.35" stroke-linejoin="miter"/>
<rect x="82.50" y="257.60" width="12.10" height="27.40" fill="#fff" stroke="#000" stroke-width="1.3"/>
<clipPath id="c5"><rect x="94.60" y="258.10" width="12.90" height="26.90"/></clipPath>
<g clip-path="url(#c5)">
<line x1="93.60" y1="232.30" x2="108.50" y2="247.20" stroke="#000" stroke-width="1.6"/>
<line x1="93.60" y1="238.50" x2="108.50" y2="253.40" stroke="#000" stroke-width="1.6"/>
<line x1="93.60" y1="244.70" x2="108.50" y2="259.60" stroke="#000" stroke-width="1.6"/>
<line x1="93.60" y1="250.90" x2="108.50" y2="265.80" stroke="#000" stroke-width="1.6"/>
<line x1="93.60" y1="257.10" x2="108.50" y2="272.00" stroke="#000" stroke-width="1.6"/>
<line x1="93.60" y1="263.30" x2="108.50" y2="278.20" stroke="#000" stroke-width="1.6"/>
<line x1="93.60" y1="269.50" x2="108.50" y2="284.40" stroke="#000" stroke-width="1.6"/>
<line x1="93.60" y1="275.70" x2="108.50" y2="290.60" stroke="#000" stroke-width="1.6"/>
<line x1="93.60" y1="281.90" x2="108.50" y2="296.80" stroke="#000" stroke-width="1.6"/>
</g>
<rect x="94.60" y="258.10" width="12.90" height="26.90" fill="none" stroke="#000" stroke-width="1.3"/>
<line x1="89.40" y1="255.00" x2="89.40" y2="257.60" stroke="#000" stroke-width="1.0"/>
<line x1="88.50" y1="255.00" x2="90.30" y2="255.00" stroke="#000" stroke-width="1.0"/>
<line x1="101.50" y1="255.00" x2="101.50" y2="258.10" stroke="#000" stroke-width="1.0"/>
<line x1="100.60" y1="255.00" x2="102.40" y2="255.00" stroke="#000" stroke-width="1.0"/>
<polyline points="89.40,251.00 89.40,246.90 92.40,246.90" fill="none" stroke="#000" stroke-width="1.1" stroke-linejoin="miter"/>
<polyline points="98.50,246.90 101.50,246.90 101.50,251.00" fill="none" stroke="#000" stroke-width="1.1" stroke-linejoin="miter"/>
<polygon points="94.15,240.60 95.85,240.60 95.75,244.00 95.30,250.00 94.70,250.00 94.25,244.00" fill="#000"/>
<circle cx="95.00" cy="240.90" r="0.95" fill="#000"/>
<line x1="92.80" y1="243.00" x2="97.20" y2="243.00" stroke="#000" stroke-width="1.5"/>
<circle cx="92.90" cy="243.00" r="0.85" fill="#000"/>
<circle cx="97.10" cy="243.00" r="0.85" fill="#000"/>
<rect x="125.60" y="250.90" width="13.00" height="34.10" fill="#fff" stroke="#000" stroke-width="1.3"/>
<clipPath id="c6"><rect x="138.60" y="251.50" width="12.90" height="33.50"/></clipPath>
<g clip-path="url(#c6)">
<line x1="137.60" y1="225.70" x2="152.50" y2="240.60" stroke="#000" stroke-width="1.6"/>
<line x1="137.60" y1="231.90" x2="152.50" y2="246.80" stroke="#000" stroke-width="1.6"/>
<line x1="137.60" y1="238.10" x2="152.50" y2="253.00" stroke="#000" stroke-width="1.6"/>
<line x1="137.60" y1="244.30" x2="152.50" y2="259.20" stroke="#000" stroke-width="1.6"/>
<line x1="137.60" y1="250.50" x2="152.50" y2="265.40" stroke="#000" stroke-width="1.6"/>
<line x1="137.60" y1="256.70" x2="152.50" y2="271.60" stroke="#000" stroke-width="1.6"/>
<line x1="137.60" y1="262.90" x2="152.50" y2="277.80" stroke="#000" stroke-width="1.6"/>
<line x1="137.60" y1="269.10" x2="152.50" y2="284.00" stroke="#000" stroke-width="1.6"/>
<line x1="137.60" y1="275.30" x2="152.50" y2="290.20" stroke="#000" stroke-width="1.6"/>
<line x1="137.60" y1="281.50" x2="152.50" y2="296.40" stroke="#000" stroke-width="1.6"/>
</g>
<rect x="138.60" y="251.50" width="12.90" height="33.50" fill="none" stroke="#000" stroke-width="1.3"/>
<line x1="132.50" y1="246.90" x2="132.50" y2="250.90" stroke="#000" stroke-width="1.0"/>
<line x1="131.60" y1="246.90" x2="133.40" y2="246.90" stroke="#000" stroke-width="1.0"/>
<line x1="144.80" y1="247.50" x2="144.80" y2="251.50" stroke="#000" stroke-width="1.0"/>
<line x1="143.90" y1="247.50" x2="145.70" y2="247.50" stroke="#000" stroke-width="1.0"/>
<polyline points="131.30,241.30 131.30,237.50 134.30,237.50" fill="none" stroke="#000" stroke-width="1.1" stroke-linejoin="miter"/>
<polyline points="142.00,237.50 145.00,237.50 145.00,241.30" fill="none" stroke="#000" stroke-width="1.1" stroke-linejoin="miter"/>
<polygon points="137.95,231.20 139.65,231.20 139.55,234.81 139.10,241.30 138.50,241.30 138.05,234.81" fill="#000"/>
<circle cx="138.80" cy="231.50" r="0.95" fill="#000"/>
<line x1="136.60" y1="233.81" x2="141.00" y2="233.81" stroke="#000" stroke-width="1.5"/>
<circle cx="136.70" cy="233.81" r="0.85" fill="#000"/>
<circle cx="140.90" cy="233.81" r="0.85" fill="#000"/>
<line x1="73.10" y1="237.40" x2="73.10" y2="285.60" stroke="#000" stroke-width="1.3"/>
<line x1="70.90" y1="285.00" x2="73.10" y2="285.00" stroke="#000" stroke-width="1.1"/>
<text x="67.00" y="288.12" font-family="'Liberation Serif', serif" font-weight="bold" font-size="7.6" text-anchor="end" stroke="#000" stroke-width="0.15">0</text>
<line x1="70.90" y1="273.10" x2="73.10" y2="273.10" stroke="#000" stroke-width="1.1"/>
<text x="67.00" y="276.22" font-family="'Liberation Serif', serif" font-weight="bold" font-size="7.6" text-anchor="end" stroke="#000" stroke-width="0.15">10</text>
<line x1="70.90" y1="261.20" x2="73.10" y2="261.20" stroke="#000" stroke-width="1.1"/>
<text x="67.00" y="264.32" font-family="'Liberation Serif', serif" font-weight="bold" font-size="7.6" text-anchor="end" stroke="#000" stroke-width="0.15">20</text>
<line x1="70.90" y1="249.30" x2="73.10" y2="249.30" stroke="#000" stroke-width="1.1"/>
<text x="67.00" y="252.42" font-family="'Liberation Serif', serif" font-weight="bold" font-size="7.6" text-anchor="end" stroke="#000" stroke-width="0.15">30</text>
<line x1="70.90" y1="237.40" x2="73.10" y2="237.40" stroke="#000" stroke-width="1.1"/>
<text x="67.00" y="240.52" font-family="'Liberation Serif', serif" font-weight="bold" font-size="7.6" text-anchor="end" stroke="#000" stroke-width="0.15">40</text>
<line x1="72.50" y1="285.00" x2="161.10" y2="285.00" stroke="#000" stroke-width="1.3"/>
<line x1="160.60" y1="285.00" x2="160.60" y2="287.20" stroke="#000" stroke-width="1.2"/>
<line x1="116.30" y1="285.00" x2="116.30" y2="287.20" stroke="#000" stroke-width="1.2"/>
<text x="80.30" y="295.60" font-family="'Liberation Serif', serif" font-weight="bold" font-size="8.3" text-anchor="start" stroke="#000" stroke-width="0.3">Control</text>
<text x="114.40" y="295.60" font-family="'Liberation Serif', serif" font-weight="bold" font-size="8.3" text-anchor="start" stroke="#000" stroke-width="0.3">17.5 µM Flu</text>
<polyline points="89.40,241.30 89.40,236.90 100.00,236.90" fill="none" stroke="#000" stroke-width="1.1" stroke-linejoin="miter"/>
<polyline points="119.40,236.90 129.40,236.90 129.40,241.30" fill="none" stroke="#000" stroke-width="1.1" stroke-linejoin="miter"/>
<line x1="106.45" y1="235.60" x2="106.45" y2="233.10" stroke="#000" stroke-width="1.25" stroke-linecap="round"/>
<line x1="106.45" y1="235.60" x2="108.83" y2="234.83" stroke="#000" stroke-width="1.25" stroke-linecap="round"/>
<line x1="106.45" y1="235.60" x2="107.92" y2="237.62" stroke="#000" stroke-width="1.25" stroke-linecap="round"/>
<line x1="106.45" y1="235.60" x2="104.98" y2="237.62" stroke="#000" stroke-width="1.25" stroke-linecap="round"/>
<line x1="106.45" y1="235.60" x2="104.07" y2="234.83" stroke="#000" stroke-width="1.25" stroke-linecap="round"/>
<circle cx="106.45" cy="235.60" r="0.9" fill="#000"/>
<line x1="114.05" y1="235.60" x2="114.05" y2="233.10" stroke="#000" stroke-width="1.25" stroke-linecap="round"/>
<line x1="114.05" y1="235.60" x2="116.43" y2="234.83" stroke="#000" stroke-width="1.25" stroke-linecap="round"/>
<line x1="114.05" y1="235.60" x2="115.52" y2="237.62" stroke="#000" stroke-width="1.25" stroke-linecap="round"/>
<line x1="114.05" y1="235.60" x2="112.58" y2="237.62" stroke="#000" stroke-width="1.25" stroke-linecap="round"/>
<line x1="114.05" y1="235.60" x2="111.67" y2="234.83" stroke="#000" stroke-width="1.25" stroke-linecap="round"/>
<circle cx="114.05" cy="235.60" r="0.9" fill="#000"/>
<text x="271.50" y="235.80" font-family="'Liberation Sans', sans-serif" font-weight="bold" font-size="26" text-anchor="start">D</text>
<text x="424.00" y="224.50" font-family="'Liberation Serif', serif" font-weight="bold" font-size="9.4" text-anchor="start" stroke="#000" stroke-width="0.3">n=19</text>
<line x1="327.20" y1="244.20" x2="328.31" y2="385.30" stroke="#000" stroke-width="1.5"/>
<line x1="324.60" y1="244.20" x2="327.20" y2="244.20" stroke="#000" stroke-width="1.3"/>
<text x="322.80" y="248.65" font-family="'Liberation Serif', serif" font-weight="bold" font-size="11.3" text-anchor="end" stroke="#000" stroke-width="0.45">100</text>
<line x1="324.82" y1="272.50" x2="327.42" y2="272.50" stroke="#000" stroke-width="1.3"/>
<text x="322.80" y="276.95" font-family="'Liberation Serif', serif" font-weight="bold" font-size="11.3" text-anchor="end" stroke="#000" stroke-width="0.45">80</text>
<line x1="325.04" y1="300.60" x2="327.64" y2="300.60" stroke="#000" stroke-width="1.3"/>
<text x="322.80" y="305.05" font-family="'Liberation Serif', serif" font-weight="bold" font-size="11.3" text-anchor="end" stroke="#000" stroke-width="0.45">60</text>
<line x1="325.26" y1="328.70" x2="327.86" y2="328.70" stroke="#000" stroke-width="1.3"/>
<text x="322.80" y="333.15" font-family="'Liberation Serif', serif" font-weight="bold" font-size="11.3" text-anchor="end" stroke="#000" stroke-width="0.45">40</text>
<line x1="325.48" y1="356.60" x2="328.08" y2="356.60" stroke="#000" stroke-width="1.3"/>
<text x="322.80" y="361.05" font-family="'Liberation Serif', serif" font-weight="bold" font-size="11.3" text-anchor="end" stroke="#000" stroke-width="0.45">20</text>
<line x1="325.70" y1="384.50" x2="328.30" y2="384.50" stroke="#000" stroke-width="1.3"/>
<text x="322.80" y="388.95" font-family="'Liberation Serif', serif" font-weight="bold" font-size="11.3" text-anchor="end" stroke="#000" stroke-width="0.45">0</text>
<line x1="327.60" y1="384.50" x2="515.40" y2="383.75" stroke="#000" stroke-width="1.5"/>
<line x1="328.30" y1="384.50" x2="328.30" y2="387.10" stroke="#000" stroke-width="1.4"/>
<line x1="374.20" y1="384.32" x2="374.20" y2="386.92" stroke="#000" stroke-width="1.4"/>
<line x1="421.80" y1="384.12" x2="421.80" y2="386.72" stroke="#000" stroke-width="1.4"/>
<line x1="468.00" y1="383.94" x2="468.00" y2="386.54" stroke="#000" stroke-width="1.4"/>
<line x1="514.80" y1="383.75" x2="514.80" y2="386.35" stroke="#000" stroke-width="1.4"/>
<text x="0" y="0" font-family="'Liberation Serif', serif" font-weight="bold" font-size="11.5" text-anchor="middle" stroke="#000" stroke-width="0.45" transform="translate(-100.00,-100.00) rotate(-90)">% PI positive cells</text>
<text x="288.00" y="403.50" font-family="'Liberation Serif', serif" font-weight="bold" font-size="11.1" text-anchor="start" stroke="#000" stroke-width="0.45">10 Gy</text>
<text x="276.90" y="420.00" font-family="'Liberation Serif', serif" font-weight="bold" font-size="11.5" text-anchor="start" stroke="#000" stroke-width="0.45">+Anti-Fas</text>
<rect x="356.50" y="395.55" width="3.6" height="1.5" fill="#000"/>
<rect x="356.50" y="416.35" width="3.6" height="1.5" fill="#000"/>
<rect x="402.70" y="395.55" width="3.6" height="1.5" fill="#000"/>
<line x1="401.50" y1="415.70" x2="407.50" y2="415.70" stroke="#000" stroke-width="1.0"/>
<line x1="404.50" y1="412.70" x2="404.50" y2="418.70" stroke="#000" stroke-width="1.0"/>
<line x1="449.50" y1="394.90" x2="455.50" y2="394.90" stroke="#000" stroke-width="1.0"/>
<line x1="452.50" y1="391.90" x2="452.50" y2="397.90" stroke="#000" stroke-width="1.0"/>
<rect x="450.70" y="416.35" width="3.6" height="1.5" fill="#000"/>
<line x1="490.60" y1="394.90" x2="496.60" y2="394.90" stroke="#000" stroke-width="1.0"/>
<line x1="493.60" y1="391.90" x2="493.60" y2="397.90" stroke="#000" stroke-width="1.0"/>
<line x1="490.60" y1="415.70" x2="496.60" y2="415.70" stroke="#000" stroke-width="1.0"/>
<line x1="493.60" y1="412.70" x2="493.60" y2="418.70" stroke="#000" stroke-width="1.0"/>
<polyline points="349.80,323.50 399.00,322.30" fill="none" stroke="#000" stroke-width="1.35" stroke-linejoin="miter"/>
<line x1="399.00" y1="322.30" x2="446.60" y2="274.40" stroke="#000" stroke-width="1.4" stroke-dasharray="5.43,3.69" stroke-dashoffset="5.43"/>
<polyline points="446.60,274.40 495.60,276.00" fill="none" stroke="#000" stroke-width="1.35" stroke-linejoin="miter"/>
<polyline points="349.80,326.60 399.00,322.30" fill="none" stroke="#000" stroke-width="1.35" stroke-linejoin="miter"/>
<line x1="399.00" y1="322.30" x2="446.60" y2="340.60" stroke="#000" stroke-width="1.4" stroke-dasharray="5.62,3.82" stroke-dashoffset="5.62"/>
<polyline points="446.60,340.60 495.60,340.00" fill="none" stroke="#000" stroke-width="1.35" stroke-linejoin="miter"/>
<polyline points="349.80,339.70 399.00,336.60" fill="none" stroke="#000" stroke-width="1.35" stroke-linejoin="miter"/>
<line x1="399.00" y1="336.60" x2="446.60" y2="304.20" stroke="#000" stroke-width="1.4" stroke-dasharray="5.35,3.64" stroke-dashoffset="5.35"/>
<polyline points="446.60,304.20 495.60,306.80" fill="none" stroke="#000" stroke-width="1.35" stroke-linejoin="miter"/>
<polyline points="349.80,350.70 399.00,358.60" fill="none" stroke="#000" stroke-width="1.35" stroke-linejoin="miter"/>
<line x1="399.00" y1="358.60" x2="446.60" y2="284.40" stroke="#000" stroke-width="1.4" stroke-dasharray="5.05,3.43" stroke-dashoffset="5.05"/>
<polyline points="446.60,284.40 495.60,285.00" fill="none" stroke="#000" stroke-width="1.35" stroke-linejoin="miter"/>
<polyline points="349.80,352.30 399.00,355.10" fill="none" stroke="#000" stroke-width="1.35" stroke-linejoin="miter"/>
<line x1="399.00" y1="355.10" x2="446.60" y2="315.30" stroke="#000" stroke-width="1.4" stroke-dasharray="4.99,3.39" stroke-dashoffset="4.99"/>
<polyline points="446.60,315.30 495.60,317.80" fill="none" stroke="#000" stroke-width="1.35" stroke-linejoin="miter"/>
<polyline points="349.80,355.80 399.00,356.60" fill="none" stroke="#000" stroke-width="1.35" stroke-linejoin="miter"/>
<line x1="399.00" y1="356.60" x2="446.60" y2="316.60" stroke="#000" stroke-width="1.4" stroke-dasharray="5.00,3.40" stroke-dashoffset="5.00"/>
<polyline points="446.60,316.60 495.60,319.80" fill="none" stroke="#000" stroke-width="1.35" stroke-linejoin="miter"/>
<polyline points="349.80,350.70 399.00,352.70" fill="none" stroke="#000" stroke-width="1.35" stroke-linejoin="miter"/>
<line x1="399.00" y1="352.70" x2="446.60" y2="321.50" stroke="#000" stroke-width="1.4" stroke-dasharray="5.29,3.59" stroke-dashoffset="5.29"/>
<polyline points="446.60,321.50 495.60,322.50" fill="none" stroke="#000" stroke-width="1.35" stroke-linejoin="miter"/>
<polyline points="349.80,357.40 399.00,352.70" fill="none" stroke="#000" stroke-width="1.35" stroke-linejoin="miter"/>
<line x1="399.00" y1="352.70" x2="446.60" y2="323.00" stroke="#000" stroke-width="1.4" stroke-dasharray="5.22,3.54" stroke-dashoffset="5.22"/>
<polyline points="446.60,323.00 495.60,324.50" fill="none" stroke="#000" stroke-width="1.35" stroke-linejoin="miter"/>
<polyline points="349.80,360.00 399.00,360.50" fill="none" stroke="#000" stroke-width="1.35" stroke-linejoin="miter"/>
<line x1="399.00" y1="360.50" x2="446.60" y2="326.00" stroke="#000" stroke-width="1.4" stroke-dasharray="5.47,3.71" stroke-dashoffset="5.47"/>
<polyline points="446.60,326.00 495.60,326.90" fill="none" stroke="#000" stroke-width="1.35" stroke-linejoin="miter"/>
<polyline points="349.80,361.20 399.00,364.30" fill="none" stroke="#000" stroke-width="1.35" stroke-linejoin="miter"/>
<line x1="399.00" y1="364.30" x2="446.60" y2="329.40" stroke="#000" stroke-width="1.4" stroke-dasharray="5.49,3.73" stroke-dashoffset="5.49"/>
<polyline points="446.60,329.40 495.60,338.80" fill="none" stroke="#000" stroke-width="1.35" stroke-linejoin="miter"/>
<polyline points="349.80,355.80 399.00,356.60" fill="none" stroke="#000" stroke-width="1.35" stroke-linejoin="miter"/>
<line x1="399.00" y1="356.60" x2="446.60" y2="330.00" stroke="#000" stroke-width="1.4" stroke-dasharray="5.07,3.44" stroke-dashoffset="5.07"/>
<polyline points="446.60,330.00 495.60,331.30" fill="none" stroke="#000" stroke-width="1.35" stroke-linejoin="miter"/>
<polyline points="349.80,360.00 399.00,358.90" fill="none" stroke="#000" stroke-width="1.35" stroke-linejoin="miter"/>
<line x1="399.00" y1="358.90" x2="446.60" y2="343.40" stroke="#000" stroke-width="1.4" stroke-dasharray="5.52,3.75" stroke-dashoffset="5.52"/>
<polyline points="446.60,343.40 495.60,343.10" fill="none" stroke="#000" stroke-width="1.35" stroke-linejoin="miter"/>
<polyline points="349.80,352.30 399.00,355.10" fill="none" stroke="#000" stroke-width="1.35" stroke-linejoin="miter"/>
<line x1="399.00" y1="355.10" x2="446.60" y2="346.00" stroke="#000" stroke-width="1.4" stroke-dasharray="5.34,3.63" stroke-dashoffset="5.34"/>
<polyline points="446.60,346.00 495.60,330.60" fill="none" stroke="#000" stroke-width="1.35" stroke-linejoin="miter"/>
<polyline points="349.80,357.40 399.00,360.50" fill="none" stroke="#000" stroke-width="1.35" stroke-linejoin="miter"/>
<line x1="399.00" y1="360.50" x2="446.60" y2="347.30" stroke="#000" stroke-width="1.4" stroke-dasharray="5.44,3.70" stroke-dashoffset="5.44"/>
<polyline points="446.60,347.30 495.60,347.50" fill="none" stroke="#000" stroke-width="1.35" stroke-linejoin="miter"/>
<polyline points="349.80,361.20 399.00,364.30" fill="none" stroke="#000" stroke-width="1.35" stroke-linejoin="miter"/>
<line x1="399.00" y1="364.30" x2="446.60" y2="355.50" stroke="#000" stroke-width="1.4" stroke-dasharray="5.33,3.62" stroke-dashoffset="5.33"/>
<polyline points="446.60,355.50 495.60,355.40" fill="none" stroke="#000" stroke-width="1.35" stroke-linejoin="miter"/>
<polyline points="349.80,357.40 399.00,358.90" fill="none" stroke="#000" stroke-width="1.35" stroke-linejoin="miter"/>
<line x1="399.00" y1="358.90" x2="446.60" y2="365.20" stroke="#000" stroke-width="1.4" stroke-dasharray="5.29,3.59" stroke-dashoffset="5.29"/>
<polyline points="446.60,365.20 495.60,373.20" fill="none" stroke="#000" stroke-width="1.35" stroke-linejoin="miter"/>
<polyline points="349.80,368.20 399.00,368.90" fill="none" stroke="#000" stroke-width="1.35" stroke-linejoin="miter"/>
<line x1="399.00" y1="368.90" x2="446.60" y2="375.80" stroke="#000" stroke-width="1.4" stroke-dasharray="5.30,3.60" stroke-dashoffset="5.30"/>
<polyline points="446.60,375.80 495.60,376.90" fill="none" stroke="#000" stroke-width="1.35" stroke-linejoin="miter"/>
<polyline points="349.80,374.30 399.00,374.30" fill="none" stroke="#000" stroke-width="1.35" stroke-linejoin="miter"/>
<line x1="399.00" y1="374.30" x2="446.60" y2="347.50" stroke="#000" stroke-width="1.4" stroke-dasharray="5.08,3.45" stroke-dashoffset="5.08"/>
<polyline points="446.60,347.50 495.60,347.50" fill="none" stroke="#000" stroke-width="1.35" stroke-linejoin="miter"/>
<polyline points="349.80,374.30 399.00,374.30" fill="none" stroke="#000" stroke-width="1.35" stroke-linejoin="miter"/>
<line x1="399.00" y1="374.30" x2="446.60" y2="358.00" stroke="#000" stroke-width="1.4" stroke-dasharray="5.54,3.77" stroke-dashoffset="5.54"/>
<polyline points="446.60,358.00 495.60,356.00" fill="none" stroke="#000" stroke-width="1.35" stroke-linejoin="miter"/>
<rect x="353.20" y="262.50" width="12.50" height="17.90" fill="#fff" stroke="#000" stroke-width="1.3"/>
<clipPath id="c7"><rect x="365.70" y="262.50" width="12.70" height="17.90"/></clipPath>
<g clip-path="url(#c7)">
<line x1="364.70" y1="236.70" x2="379.40" y2="251.40" stroke="#000" stroke-width="1.6"/>
<line x1="364.70" y1="242.90" x2="379.40" y2="257.60" stroke="#000" stroke-width="1.6"/>
<line x1="364.70" y1="249.10" x2="379.40" y2="263.80" stroke="#000" stroke-width="1.6"/>
<line x1="364.70" y1="255.30" x2="379.40" y2="270.00" stroke="#000" stroke-width="1.6"/>
<line x1="364.70" y1="261.50" x2="379.40" y2="276.20" stroke="#000" stroke-width="1.6"/>
<line x1="364.70" y1="267.70" x2="379.40" y2="282.40" stroke="#000" stroke-width="1.6"/>
<line x1="364.70" y1="273.90" x2="379.40" y2="288.60" stroke="#000" stroke-width="1.6"/>
<line x1="364.70" y1="280.10" x2="379.40" y2="294.80" stroke="#000" stroke-width="1.6"/>
</g>
<rect x="365.70" y="262.50" width="12.70" height="17.90" fill="none" stroke="#000" stroke-width="1.3"/>
<line x1="359.40" y1="260.60" x2="359.40" y2="262.50" stroke="#000" stroke-width="1.0"/>
<line x1="358.50" y1="260.60" x2="360.30" y2="260.60" stroke="#000" stroke-width="1.0"/>
<line x1="372.50" y1="260.60" x2="372.50" y2="262.50" stroke="#000" stroke-width="1.0"/>
<line x1="371.60" y1="260.60" x2="373.40" y2="260.60" stroke="#000" stroke-width="1.0"/>
<polyline points="359.40,257.50 359.40,253.50 362.40,253.50" fill="none" stroke="#000" stroke-width="1.1" stroke-linejoin="miter"/>
<polyline points="369.50,253.50 372.50,253.50 372.50,257.50" fill="none" stroke="#000" stroke-width="1.1" stroke-linejoin="miter"/>
<polygon points="365.15,247.50 366.85,247.50 366.75,251.02 366.30,257.30 365.70,257.30 365.25,251.02" fill="#000"/>
<circle cx="366.00" cy="247.80" r="0.95" fill="#000"/>
<line x1="363.80" y1="250.02" x2="368.20" y2="250.02" stroke="#000" stroke-width="1.5"/>
<circle cx="363.90" cy="250.02" r="0.85" fill="#000"/>
<circle cx="368.10" cy="250.02" r="0.85" fill="#000"/>
<rect x="397.40" y="245.50" width="13.00" height="34.90" fill="#fff" stroke="#000" stroke-width="1.3"/>
<clipPath id="c8"><rect x="410.40" y="245.50" width="12.40" height="34.90"/></clipPath>
<g clip-path="url(#c8)">
<line x1="409.40" y1="219.70" x2="423.80" y2="234.10" stroke="#000" stroke-width="1.6"/>
<line x1="409.40" y1="225.90" x2="423.80" y2="240.30" stroke="#000" stroke-width="1.6"/>
<line x1="409.40" y1="232.10" x2="423.80" y2="246.50" stroke="#000" stroke-width="1.6"/>
<line x1="409.40" y1="238.30" x2="423.80" y2="252.70" stroke="#000" stroke-width="1.6"/>
<line x1="409.40" y1="244.50" x2="423.80" y2="258.90" stroke="#000" stroke-width="1.6"/>
<line x1="409.40" y1="250.70" x2="423.80" y2="265.10" stroke="#000" stroke-width="1.6"/>
<line x1="409.40" y1="256.90" x2="423.80" y2="271.30" stroke="#000" stroke-width="1.6"/>
<line x1="409.40" y1="263.10" x2="423.80" y2="277.50" stroke="#000" stroke-width="1.6"/>
<line x1="409.40" y1="269.30" x2="423.80" y2="283.70" stroke="#000" stroke-width="1.6"/>
<line x1="409.40" y1="275.50" x2="423.80" y2="289.90" stroke="#000" stroke-width="1.6"/>
<line x1="409.40" y1="281.70" x2="423.80" y2="296.10" stroke="#000" stroke-width="1.6"/>
</g>
<rect x="410.40" y="245.50" width="12.40" height="34.90" fill="none" stroke="#000" stroke-width="1.3"/>
<line x1="403.30" y1="242.70" x2="403.30" y2="245.50" stroke="#000" stroke-width="1.0"/>
<line x1="402.40" y1="242.70" x2="404.20" y2="242.70" stroke="#000" stroke-width="1.0"/>
<line x1="416.20" y1="242.90" x2="416.20" y2="245.50" stroke="#000" stroke-width="1.0"/>
<line x1="415.30" y1="242.90" x2="417.10" y2="242.90" stroke="#000" stroke-width="1.0"/>
<polyline points="403.10,239.50 403.10,235.40 406.10,235.40" fill="none" stroke="#000" stroke-width="1.1" stroke-linejoin="miter"/>
<polyline points="413.30,235.40 416.30,235.40 416.30,239.50" fill="none" stroke="#000" stroke-width="1.1" stroke-linejoin="miter"/>
<polygon points="409.15,229.20 410.85,229.20 410.75,232.72 410.30,239.00 409.70,239.00 409.25,232.72" fill="#000"/>
<circle cx="410.00" cy="229.50" r="0.95" fill="#000"/>
<line x1="407.80" y1="231.72" x2="412.20" y2="231.72" stroke="#000" stroke-width="1.5"/>
<circle cx="407.90" cy="231.72" r="0.85" fill="#000"/>
<circle cx="412.10" cy="231.72" r="0.85" fill="#000"/>
<line x1="344.00" y1="236.50" x2="344.00" y2="281.00" stroke="#000" stroke-width="1.3"/>
<line x1="341.80" y1="280.40" x2="344.00" y2="280.40" stroke="#000" stroke-width="1.1"/>
<text x="338.40" y="283.79" font-family="'Liberation Serif', serif" font-weight="bold" font-size="8.4" text-anchor="end" stroke="#000" stroke-width="0.15">0</text>
<line x1="341.80" y1="271.62" x2="344.00" y2="271.62" stroke="#000" stroke-width="1.1"/>
<text x="338.40" y="275.01" font-family="'Liberation Serif', serif" font-weight="bold" font-size="8.4" text-anchor="end" stroke="#000" stroke-width="0.15">10</text>
<line x1="341.80" y1="262.84" x2="344.00" y2="262.84" stroke="#000" stroke-width="1.1"/>
<text x="338.40" y="266.23" font-family="'Liberation Serif', serif" font-weight="bold" font-size="8.4" text-anchor="end" stroke="#000" stroke-width="0.15">20</text>
<line x1="341.80" y1="254.06" x2="344.00" y2="254.06" stroke="#000" stroke-width="1.1"/>
<text x="338.40" y="257.45" font-family="'Liberation Serif', serif" font-weight="bold" font-size="8.4" text-anchor="end" stroke="#000" stroke-width="0.15">30</text>
<line x1="341.80" y1="245.28" x2="344.00" y2="245.28" stroke="#000" stroke-width="1.1"/>
<text x="338.40" y="248.67" font-family="'Liberation Serif', serif" font-weight="bold" font-size="8.4" text-anchor="end" stroke="#000" stroke-width="0.15">40</text>
<line x1="341.80" y1="236.50" x2="344.00" y2="236.50" stroke="#000" stroke-width="1.1"/>
<text x="338.40" y="239.89" font-family="'Liberation Serif', serif" font-weight="bold" font-size="8.4" text-anchor="end" stroke="#000" stroke-width="0.15">50</text>
<line x1="343.40" y1="280.40" x2="433.00" y2="280.40" stroke="#000" stroke-width="1.3"/>
<line x1="432.50" y1="280.40" x2="432.50" y2="282.60" stroke="#000" stroke-width="1.2"/>
<line x1="388.00" y1="280.40" x2="388.00" y2="282.60" stroke="#000" stroke-width="1.2"/>
<text x="353.80" y="290.50" font-family="'Liberation Serif', serif" font-weight="bold" font-size="8.3" text-anchor="start" stroke="#000" stroke-width="0.3">Control</text>
<text x="401.30" y="290.50" font-family="'Liberation Serif', serif" font-weight="bold" font-size="8.3" text-anchor="start" stroke="#000" stroke-width="0.3">10 Gy</text>
<polyline points="361.30,239.40 361.30,235.00 372.50,235.00" fill="none" stroke="#000" stroke-width="1.1" stroke-linejoin="miter"/>
<polyline points="391.25,235.00 402.00,235.00 402.00,239.40" fill="none" stroke="#000" stroke-width="1.1" stroke-linejoin="miter"/>
<line x1="378.90" y1="234.10" x2="378.90" y2="231.60" stroke="#000" stroke-width="1.25" stroke-linecap="round"/>
<line x1="378.90" y1="234.10" x2="381.28" y2="233.33" stroke="#000" stroke-width="1.25" stroke-linecap="round"/>
<line x1="378.90" y1="234.10" x2="380.37" y2="236.12" stroke="#000" stroke-width="1.25" stroke-linecap="round"/>
<line x1="378.90" y1="234.10" x2="377.43" y2="236.12" stroke="#000" stroke-width="1.25" stroke-linecap="round"/>
<line x1="378.90" y1="234.10" x2="376.52" y2="233.33" stroke="#000" stroke-width="1.25" stroke-linecap="round"/>
<circle cx="378.90" cy="234.10" r="0.9" fill="#000"/>
<line x1="386.50" y1="234.10" x2="386.50" y2="231.60" stroke="#000" stroke-width="1.25" stroke-linecap="round"/>
<line x1="386.50" y1="234.10" x2="388.88" y2="233.33" stroke="#000" stroke-width="1.25" stroke-linecap="round"/>
<line x1="386.50" y1="234.10" x2="387.97" y2="236.12" stroke="#000" stroke-width="1.25" stroke-linecap="round"/>
<line x1="386.50" y1="234.10" x2="385.03" y2="236.12" stroke="#000" stroke-width="1.25" stroke-linecap="round"/>
<line x1="386.50" y1="234.10" x2="384.12" y2="233.33" stroke="#000" stroke-width="1.25" stroke-linecap="round"/>
<circle cx="386.50" cy="234.10" r="0.9" fill="#000"/>
</svg>
</body></html>
